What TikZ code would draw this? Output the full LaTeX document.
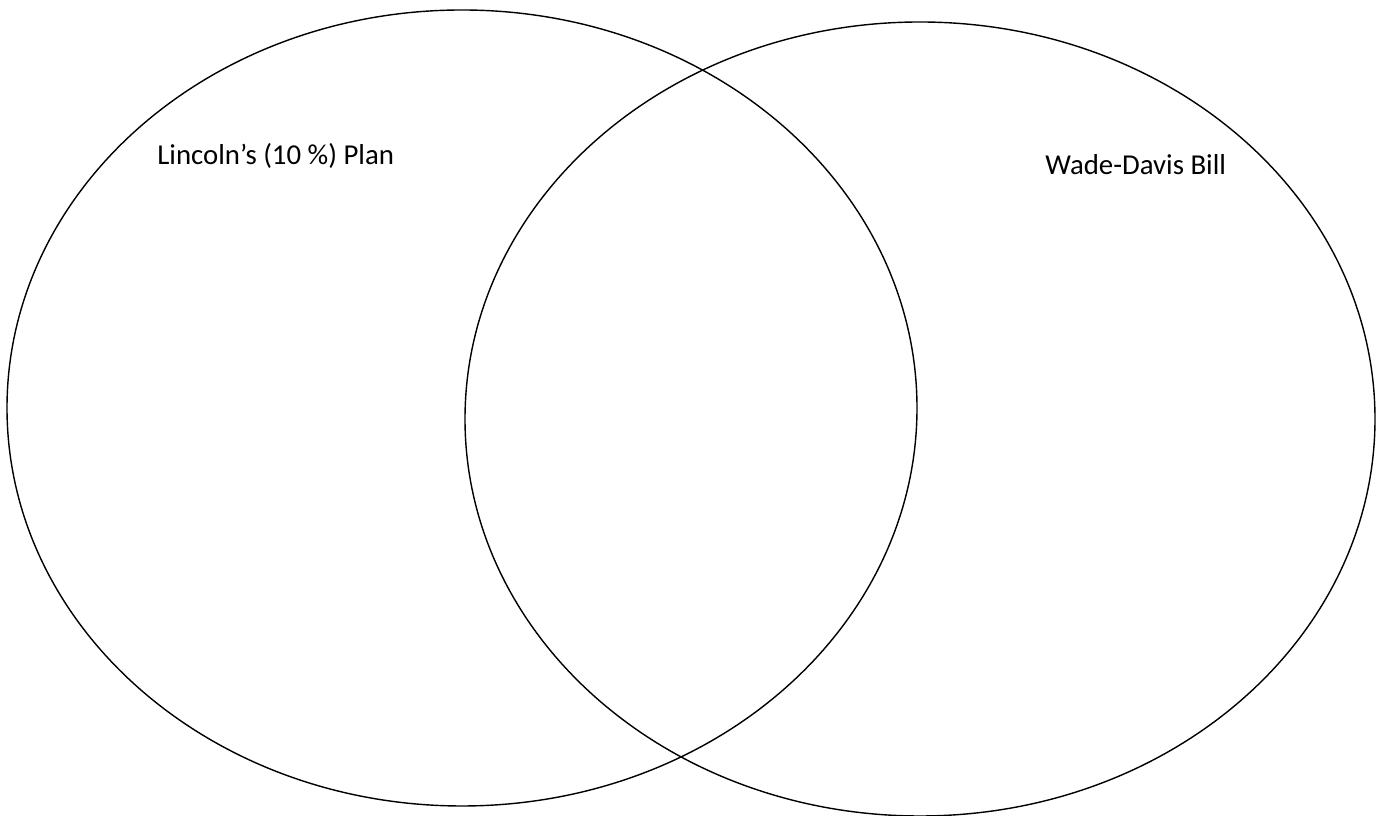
\documentclass[tikz,border=0pt]{standalone}
\usepackage{fontspec}
\setmainfont{Carlito}
\usepackage{tikz}
\usetikzlibrary{positioning}
\tikzset{
  setcurve/.style={draw=black, line width=0.8pt},
  setlabel/.style={anchor=base west, inner sep=0pt, font=\fontsize{16.4}{19}\selectfont},
}
\begin{document}
\begin{tikzpicture}
  % page frame
  \useasboundingbox (0,0) rectangle (27.68,16.32);
  \clip (0,0) rectangle (27.68,16.32);

  % left set
  \draw[setcurve] (9.24,8.16) ellipse [x radius=9.1, y radius=7.96];
  % right set
  \draw[setcurve] (18.4,7.94) ellipse [x radius=9.1, y radius=7.94];

  % labels
  \node[setlabel] (lincoln) at (3.14,13.02) {Lincoln’s (10 \%) Plan};
  \node[setlabel] (wadedavis) at (20.9,12.82) {Wade-Davis Bill};
\end{tikzpicture}
\end{document}
